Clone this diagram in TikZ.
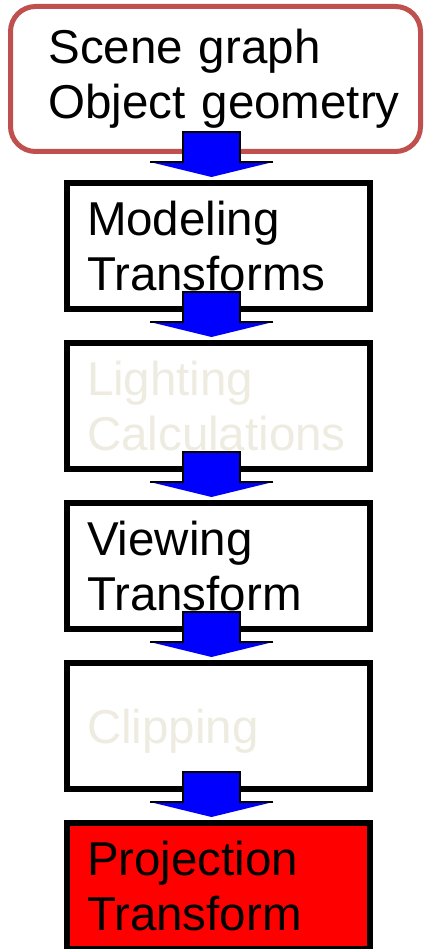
\documentclass[tikz,border=0pt]{standalone}
\usepackage{fontspec}
\setmainfont{Liberation Sans}
\usetikzlibrary{calc}
\definecolor{scenered}{HTML}{C0504D}
\definecolor{fadedtext}{HTML}{EEECE1}
\definecolor{arrowblue}{HTML}{0000FF}
\newcommand\flowarrow[2]{%
  \fill[arrowblue] let \p2=(#2.north) in
    ({\x2-7pt-28.5pt},{\y2+48pt}) -- ({\x2-7pt+28.5pt},{\y2+48pt}) --
    ({\x2-7pt+28.5pt},{\y2+18pt}) -- ({\x2-7pt+61.5pt},{\y2+18pt}) --
    ({\x2-7pt},{\y2+3pt}) -- ({\x2-7pt-61.5pt},{\y2+18pt}) --
    ({\x2-7pt-28.5pt},{\y2+18pt}) -- cycle;
  \draw[arrowline] let \p2=(#2.north) in
    ({\x2-7pt-61.5pt},{\y2+18pt}) -- ({\x2-7pt-28.5pt},{\y2+18pt}) --
    ({\x2-7pt-28.5pt},{\y2+48pt}) -- ({\x2-7pt+28.5pt},{\y2+48pt}) --
    ({\x2-7pt+28.5pt},{\y2+18pt}) -- ({\x2-7pt+61.5pt},{\y2+18pt});
}
\begin{document}
\begin{tikzpicture}[x=1pt,y=-1pt,
  arrowline/.style={draw=black, line width=1.5pt, line join=miter},
  scenebox/.style={draw=scenered, line width=5pt, rounded corners=25pt, fill=white,
    minimum width=410pt, minimum height=145pt, inner xsep=38pt, inner ysep=0pt,
    text width=334pt, align=left, font=\fontsize{47.5}{55}\selectfont},
  stagebox/.style={draw=black, line width=6pt, fill=white,
    minimum width=303pt, minimum height=126pt, inner xsep=20pt, inner ysep=0pt,
    text width=263pt, align=left, font=\fontsize{47.5}{55}\selectfont},
  fadedbox/.style={stagebox, text=fadedtext},
  redbox/.style={stagebox, fill=red},
]
\useasboundingbox (0,0) rectangle (423,949);
\node[scenebox] (scene) at (215.5,79) {Scene graph\\\mbox{Object geometry}};
\node[stagebox] (model) at (218.5,246) {Modeling\\Transforms};
\node[fadedbox] (light) at (218.5,406) {Lighting\\Calculations};
\node[stagebox] (view) at (218.5,566) {Viewing\\Transform};
\node[fadedbox, text depth=0pt] (clip) at (218.5,726) {Clipping};
\node[redbox] (proj) at (218.5,886) {Projection\\Transform};
\flowarrow{scene}{model}
\flowarrow{model}{light}
\flowarrow{light}{view}
\flowarrow{view}{clip}
\flowarrow{clip}{proj}
\end{tikzpicture}
\end{document}
